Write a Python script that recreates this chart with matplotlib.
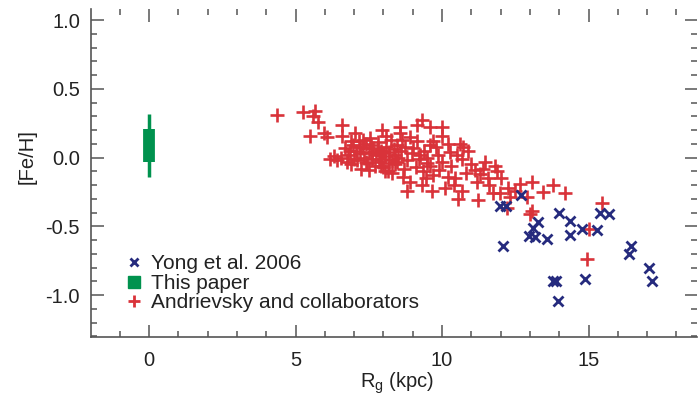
import matplotlib
matplotlib.use("Agg")
import matplotlib.pyplot as plt
from matplotlib.lines import Line2D
from matplotlib.ticker import MultipleLocator

plt.rcParams['font.family'] = ['Liberation Sans', 'DejaVu Sans']

# Yong et al. 2006
yong_x = [12.70, 11.98, 12.18, 12.09, 13.27, 13.10, 12.98, 13.17, 13.57, 13.98,
          14.38, 14.38, 14.79, 15.28, 15.39, 15.70, 13.80, 13.88, 13.97, 14.88,
          16.45, 16.38, 17.07, 17.17]
yong_y = [-0.27, -0.35, -0.35, -0.64, -0.47, -0.51, -0.57, -0.58, -0.59, -0.40,
          -0.46, -0.56, -0.52, -0.53, -0.40, -0.41, -0.90, -0.90, -1.04, -0.88,
          -0.64, -0.70, -0.80, -0.90]

# This paper
paper_x = [0.0]
paper_box = [-0.03, 0.21]
paper_range = [-0.14, 0.32]

# Andrievsky and collaborators
andr_x = [4.38, 5.25, 5.67, 5.61, 5.78, 5.49, 5.98, 6.06, 6.60, 6.58,
          7.03, 6.18, 6.41, 6.69, 6.55, 6.80, 6.90, 6.95, 7.05, 7.10,
          7.15, 7.20, 7.25, 7.30, 7.35, 7.40, 7.45, 7.50, 7.55, 7.60,
          7.65, 7.70, 7.75, 7.80, 7.85, 7.90, 7.95, 8.00, 8.05, 8.10,
          8.15, 8.20, 8.25, 8.30, 8.35, 8.40, 8.45, 8.50, 8.57, 8.62,
          8.68, 8.05, 8.80, 8.97, 9.14, 9.14, 9.31, 9.36, 9.48, 9.59,
          9.59, 9.65, 9.70, 9.87, 9.99, 9.99, 10.10, 10.21, 10.27, 10.61,
          10.56, 10.67, 10.73, 11.47, 11.81, 11.13, 11.41, 11.58, 11.87, 11.18,
          10.67, 10.44, 11.24, 11.75, 11.98, 12.26, 12.66, 13.06, 12.32, 12.89,
          13.46, 13.80, 14.20, 13.00, 12.21, 13.06, 15.45, 15.03, 14.94, 7.00,
          7.20, 7.40, 7.60, 7.80, 8.00, 8.20, 8.40, 8.60, 8.80, 9.00,
          9.20, 9.40, 9.60, 9.80, 10.00, 7.50, 7.90, 8.30, 8.70, 9.10,
          9.50, 9.90, 10.30, 10.50, 10.80, 11.00, 11.30, 8.90, 8.10, 7.30,
          9.70, 10.20, 10.90, 6.75, 6.85, 7.58, 7.92, 8.45, 8.75, 9.25,
          9.45, 10.40, 11.60, 12.00, 12.50, 8.90, 9.30, 6.30, 6.90, 8.55]
andr_y = [0.31, 0.33, 0.34, 0.30, 0.26, 0.16, 0.18, 0.15, 0.24, 0.16,
          0.18, -0.01, -0.02, 0.07, 0.00, 0.02, -0.05, 0.09, 0.05, -0.02,
          0.12, 0.03, -0.08, 0.07, 0.00, 0.10, -0.04, 0.04, 0.14, -0.01,
          0.07, -0.06, 0.02, 0.11, -0.03, 0.05, 0.20, -0.07, 0.01, 0.08,
          -0.10, 0.04, 0.13, -0.02, 0.06, -0.05, 0.09, 0.00, 0.18, 0.13,
          -0.14, -0.10, -0.24, 0.03, 0.24, 0.12, 0.27, -0.10, -0.04, 0.22,
          0.09, -0.24, -0.13, 0.02, 0.22, 0.16, -0.22, -0.14, 0.04, 0.10,
          -0.30, -0.01, 0.08, -0.03, -0.06, -0.09, -0.08, -0.15, -0.10, -0.18,
          -0.24, -0.15, -0.31, -0.26, -0.26, -0.22, -0.19, -0.18, -0.29, -0.29,
          -0.25, -0.20, -0.26, -0.41, -0.37, -0.39, -0.33, -0.52, -0.74, -0.01,
          0.08, -0.03, 0.03, 0.06, 0.03, -0.04, 0.02, 0.05, -0.02, 0.07,
          -0.01, 0.05, -0.06, 0.08, -0.03, -0.09, -0.06, -0.11, -0.08, -0.07,
          0.00, -0.09, -0.06, 0.02, -0.11, -0.05, -0.12, 0.15, 0.16, 0.13,
          0.12, 0.10, 0.05, -0.03, 0.05, 0.09, -0.01, -0.03, 0.08, 0.02,
          -0.15, -0.20, -0.20, -0.15, -0.24, -0.18, -0.20, 0.01, 0.12, 0.22]

xticks = [0, 5, 10, 15]
yticks = [-1.0, -0.5, 0.0, 0.5, 1.0]

RED = '#d9333a'
BLUE = '#262b7e'
GREEN = '#00924e'
AXC = '#555555'
TXT = '#222222'

fig = plt.figure(figsize=(6.98, 3.98), dpi=100)
ax = fig.add_axes([91/698, 61/398, 606/698, 328/398])

ax.plot(andr_x, andr_y, linestyle='none', marker='+', color=RED,
        markersize=10, markeredgewidth=1.9)
ax.plot(yong_x, yong_y, linestyle='none', marker='x', color=BLUE,
        markersize=7, markeredgewidth=2.0)
ax.vlines(paper_x, paper_range[0], paper_range[1], color=GREEN, linewidth=2.5)
ax.vlines(paper_x, paper_box[0], paper_box[1], color=GREEN, linewidth=8.5)

ax.set_xlim(-1.98, 18.7)
ax.set_ylim(-1.305, 1.08)
ax.set_xticks(xticks)
ax.set_xticklabels([str(t) for t in xticks])
ax.set_yticks(yticks)
ax.set_yticklabels(['%.1f' % t for t in yticks])
ax.xaxis.set_minor_locator(MultipleLocator(1))
ax.yaxis.set_minor_locator(MultipleLocator(0.1))
ax.tick_params(which='both', direction='in', top=True, right=True,
               color=AXC, labelsize=14.5, labelcolor=TXT, width=1.1)
ax.tick_params(which='major', length=9)
ax.tick_params(axis='y', which='major', pad=8)
ax.tick_params(axis='x', which='major', pad=10)
ax.tick_params(which='minor', length=4.5)
for s in ['top', 'right']:
    ax.spines[s].set_visible(False)
for s in ['left', 'bottom']:
    ax.spines[s].set_color(AXC)
    ax.spines[s].set_linewidth(1.2)

ax.set_xlabel(r'R$_\mathregular{g}$ (kpc)', fontsize=14.5, color=TXT)
ax.xaxis.set_label_coords((397 - 91) / 606, -(371 - 337) / 328)
ax.set_ylabel('[Fe/H]', fontsize=14.5, color=TXT)
ax.yaxis.set_label_coords((37 - 91) / 606, (337 - 157) / 328)

handles = [
    Line2D([], [], linestyle='none', marker='x', color=BLUE, markersize=6, markeredgewidth=2.0),
    Line2D([], [], linestyle='none', marker='s', color=GREEN, markersize=8),
    Line2D([], [], linestyle='none', marker='+', color=RED, markersize=9, markeredgewidth=2.0),
]
labels = ['Yong et al. 2006', 'This paper', 'Andrievsky and collaborators']
ax.legend(handles, labels, loc='lower left', bbox_to_anchor=(0.043, 0.05),
          frameon=False, fontsize=15, handlelength=0.8, handletextpad=0.45,
          labelspacing=0.02, borderaxespad=0, labelcolor=TXT)

fig.savefig('out.png', dpi=100)
